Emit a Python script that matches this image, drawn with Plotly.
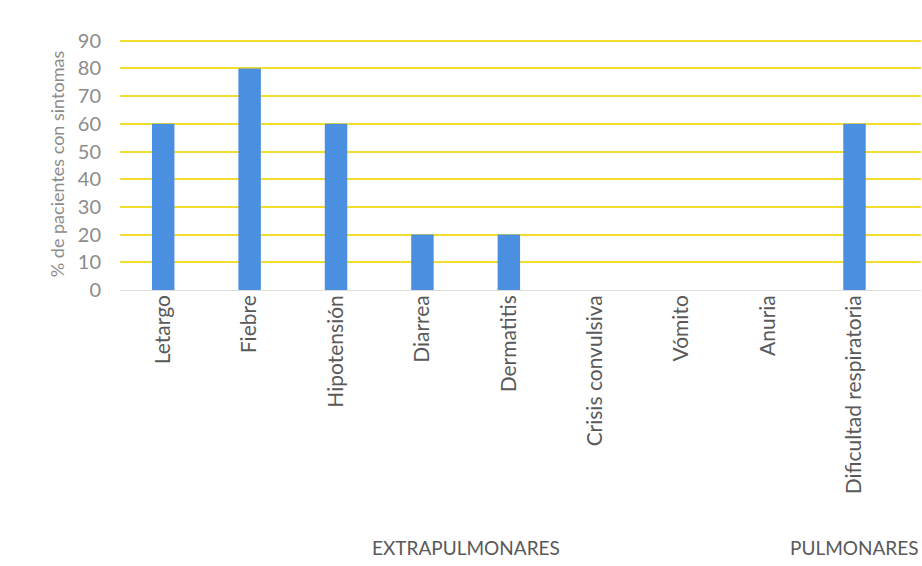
import plotly.graph_objects as go

categories = ["Letargo", "Fiebre", "Hipotensión", "Diarrea", "Dermatitis",
              "Crisis convulsiva", "Vómito", "Anuria", "Dificultad respiratoria"]
values = [60, 80, 60, 20, 20, 0, 0, 0, 60]
groups = ["EXTRAPULMONARES"] * 8 + ["PULMONARES"]
y_ticks = [0, 10, 20, 30, 40, 50, 60, 70, 80, 90]
y_title = "% de pacientes con sintomas"

FONT = "Lato, 'Open Sans', sans-serif"

fig = go.Figure(go.Bar(
    x=categories, y=values,
    marker=dict(color="#4a8fe0", line=dict(width=0)),
    width=0.26,
))

# group labels centred under their categories
annotations = []
seen = []
for g in groups:
    if g not in seen:
        seen.append(g)
for g in seen:
    idx = [i for i, gg in enumerate(groups) if gg == g]
    center = (idx[0] + idx[-1]) / 2
    annotations.append(dict(
        x=center, y=-1.02, xref="x", yref="paper", text=g, showarrow=False,
        font=dict(family=FONT, size=19, color="#595959"), yanchor="middle",
    ))

fig.update_layout(
    width=922, height=566,
    margin=dict(l=120, r=1, t=38, b=276, autoexpand=False),
    paper_bgcolor="white", plot_bgcolor="white",
    showlegend=False,
    annotations=annotations,
    xaxis=dict(
        tickangle=-90, tickfont=dict(family=FONT, size=21, color="#595959"),
        showgrid=False, showline=False, ticks="", ticklen=0, automargin=False,
    ),
    yaxis=dict(
        range=[0, 91], tickvals=y_ticks,
        tickfont=dict(family=FONT, size=20, color="#8c8c8c"),
        gridcolor="#f2dc2e", gridwidth=2,
        zeroline=True, zerolinecolor="#dcdcdc", zerolinewidth=1,
        showline=False, ticks="", ticklabelstandoff=18, automargin=False,
        title=dict(text=y_title, font=dict(family=FONT, size=18, color="#8c8c8c"), standoff=8),
    ),
    bargap=0.7,
)

fig.write_html(
    "out.html",
    config=dict(displayModeBar=False),
    post_script="document.body.style.margin='0';document.body.style.overflow='hidden';",
)
